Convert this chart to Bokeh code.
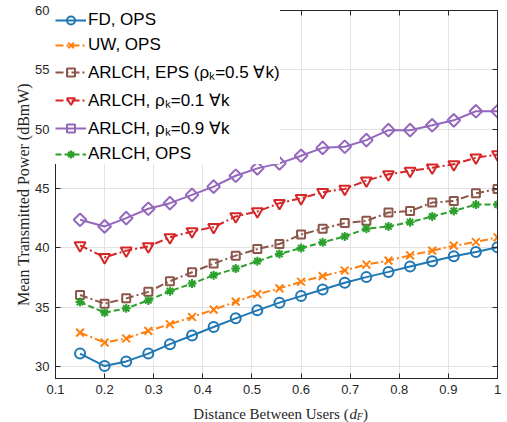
from bokeh.plotting import figure
from bokeh.models import FixedTicker, LinearAxis, Range1d, Spacer
from bokeh.layouts import column, row
from bokeh.core.properties import value
from bokeh.embed import file_html
from bokeh.resources import INLINE
import math

# ---------------- data ----------------
d_f = [0.15, 0.2, 0.244, 0.289, 0.333, 0.378, 0.422, 0.467, 0.511, 0.556,
       0.6, 0.644, 0.689, 0.733, 0.778, 0.822, 0.867, 0.911, 0.956, 1.0]

fd_ops = [31.1, 30.05, 30.44, 31.1, 31.89, 32.62, 33.34, 34.07, 34.74, 35.39,
          35.94, 36.5, 37.06, 37.54, 37.98, 38.43, 38.88, 39.3, 39.66, 40.05]
uw_ops = [32.87, 32.03, 32.37, 33.01, 33.57, 34.18, 34.8, 35.47, 36.1, 36.59,
          37.15, 37.62, 38.1, 38.6, 38.93, 39.38, 39.77, 40.19, 40.5, 40.89]
arlch_eps = [36.03, 35.3, 35.75, 36.3, 37.2, 37.95, 38.68, 39.35, 39.9, 40.33,
             41.12, 41.62, 42.09, 42.28, 42.98, 43.1, 43.82, 43.96, 44.6, 44.97]
arlch_rho01 = [40.22, 39.21, 39.77, 40.13, 40.89, 41.39, 41.75, 42.65, 43.07, 43.77,
               44.18, 44.69, 44.97, 45.67, 46.2, 46.48, 46.76, 47.04, 47.6, 47.87]
arlch_rho09 = [42.37, 41.81, 42.51, 43.3, 43.77, 44.47, 45.16, 46.08, 46.7, 47.12,
               47.76, 48.43, 48.52, 49.08, 49.92, 49.92, 50.33, 50.75, 51.51, 51.51]
arlch_ops = [35.44, 34.55, 34.91, 35.58, 36.36, 37.0, 37.7, 38.26, 38.88, 39.49,
             39.99, 40.47, 40.97, 41.62, 41.81, 42.17, 42.65, 43.12, 43.65, 43.65]

series_labels = ["FD, OPS", "UW, OPS", "ARLCH, EPS (\u03c1\u2096=0.5 \u2200k)",
                 "ARLCH, \u03c1\u2096=0.1 \u2200k", "ARLCH, \u03c1\u2096=0.9 \u2200k", "ARLCH, OPS"]

x_ticks = [0.1, 0.2, 0.3, 0.4, 0.5, 0.6, 0.7, 0.8, 0.9, 1.0]
x_tick_labels = ["0.1", "0.2", "0.3", "0.4", "0.5", "0.6", "0.7", "0.8", "0.9", "1"]
y_ticks = [30, 35, 40, 45, 50, 55, 60]
y_label = "Mean Transmitted Power (dBmW)"
x_label_parts = ["Distance Between Users (", "d", "F", ")"]

# ---------------- main figure ----------------
AX = "#262626"
LEFT_PAD = 9
W = 505 - LEFT_PAD
H1 = 399
p = figure(width=W, height=H1, output_backend="svg", toolbar_location=None,
           x_range=Range1d(0.1, 1.0), y_range=Range1d(29, 60),
           min_border_left=55 - LEFT_PAD, min_border_right=8, min_border_top=10,
           min_border_bottom=21)
p.background_fill_color = "white"
p.border_fill_color = "white"
p.outline_line_color = AX
p.outline_line_width = 1

tick_font = "Liberation Sans"
serif = "Liberation Serif"
for ax in (p.xaxis[0], p.yaxis[0]):
    ax.major_tick_in = 5
    ax.major_tick_out = 0
    ax.minor_tick_line_color = None
    ax.axis_line_color = AX
    ax.major_tick_line_color = AX
    ax.major_label_text_font = tick_font
    ax.major_label_text_font_size = "13px"
    ax.major_label_text_color = AX
    ax.axis_label_text_font = serif
    ax.axis_label_text_font_size = "16px"
    ax.axis_label_text_font_style = "normal"
    ax.axis_label_text_color = AX

p.xaxis[0].ticker = FixedTicker(ticks=x_ticks)
p.xaxis[0].major_label_overrides = {t: l for t, l in zip(x_ticks, x_tick_labels)}
p.yaxis[0].ticker = FixedTicker(ticks=y_ticks)
p.yaxis[0].axis_label = y_label
p.xaxis[0].major_label_standoff = 6
p.yaxis[0].major_label_standoff = 6
p.yaxis[0].axis_label_standoff = 0

for loc, tk in (("above", x_ticks), ("right", y_ticks)):
    a = LinearAxis(ticker=FixedTicker(ticks=tk), major_tick_in=5, major_tick_out=0,
                   minor_tick_line_color=None, axis_line_color=AX, major_tick_line_color=AX,
                   major_label_text_font_size="1px", major_label_text_color=None,
                   major_label_standoff=0)
    p.add_layout(a, loc)

p.grid.grid_line_color = "#e3e3e3"
p.grid.grid_line_width = 1
p.xgrid.ticker = FixedTicker(ticks=x_ticks)
p.ygrid.ticker = FixedTicker(ticks=y_ticks)

styles = [
    (fd_ops, "#1f77b4", "solid", "circle", 10, 0),
    (uw_ops, "#ff7f0e", "8 3 2 3", "x", 11, 0),
    (arlch_eps, "#8c564b", "8 3 2 3", "square", 8, 0),
    (arlch_rho01, "#d62728", "8 3 2 3", "inverted_triangle", 11, 0),
    (arlch_rho09, "#9467bd", "solid", "square", 9, math.pi / 4),
    (arlch_ops, "#2ca02c", "6 3", "asterisk", 9, 0),
]

for (ys, col, dash, mk, sz, ang), lab in zip(styles, series_labels):
    p.line(d_f, ys, line_color=col, line_width=2, line_dash=dash, legend_label=lab)
    p.scatter(d_f, ys, marker=mk, size=sz, angle=ang, line_color=col, line_width=2,
              fill_color=None, legend_label=lab)

lg = p.legend[0]
lg.location = "top_left"
lg.margin = 0
lg.padding = 1
lg.spacing = 5
lg.border_line_color = None
lg.background_fill_color = "white"
lg.background_fill_alpha = 1
lg.label_text_font = tick_font
lg.label_text_font_size = "17px"
lg.label_text_color = "#000000"
lg.glyph_width = 31
lg.glyph_height = 20
lg.label_height = 20
lg.label_standoff = 2

# ---------------- x-axis label strip (italic d with subscript F) ----------------
H2 = 23
q = figure(width=W, height=H2, output_backend="svg", toolbar_location=None,
           x_range=Range1d(0, W), y_range=Range1d(0, H2),
           min_border_left=0, min_border_right=0, min_border_top=0, min_border_bottom=0)
q.axis.visible = False
q.grid.visible = False
q.outline_line_color = None
q.background_fill_color = "white"
q.border_fill_color = "white"

anchor = 338 - LEFT_PAD   # end of the upright part, in strip pixels
base = 9                  # baseline height in strip pixels
q.text(x=[anchor], y=[base], text=[x_label_parts[0]], text_align="right",
       text_baseline="alphabetic", text_font=value(serif), text_font_size="15px",
       text_color=AX)
q.text(x=[anchor + 1], y=[base], text=[x_label_parts[1]], text_align="left",
       text_baseline="alphabetic", text_font=value(serif), text_font_size="15px",
       text_font_style="italic", text_color=AX)
q.text(x=[anchor + 9], y=[base - 3], text=[x_label_parts[2]], text_align="left",
       text_baseline="alphabetic", text_font=value(serif), text_font_size="10px",
       text_font_style="italic", text_color=AX)
q.text(x=[anchor + 16], y=[base], text=[x_label_parts[3]], text_align="left",
       text_baseline="alphabetic", text_font=value(serif), text_font_size="15px",
       text_color=AX)

layout = row(Spacer(width=LEFT_PAD, height=H1 + H2), column(p, q, spacing=0), spacing=0)
open("out.html", "w").write(file_html(layout, INLINE))
